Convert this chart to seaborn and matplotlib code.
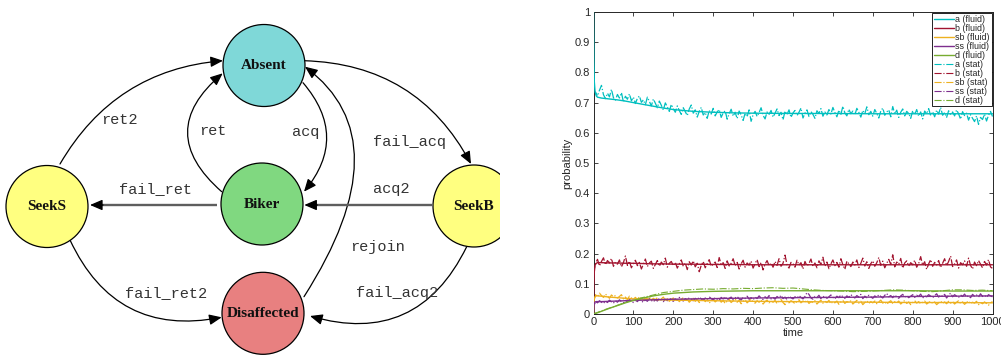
import numpy as np
import pandas as pd
import matplotlib
matplotlib.use("Agg")
import matplotlib.pyplot as plt
import seaborn as sns
from matplotlib.patches import Circle, FancyArrowPatch
from matplotlib.lines import Line2D

# ---------------- data: line chart ----------------
fluid_time = [0, 1, 2, 4, 7, 10, 20, 40, 60, 80, 100, 125, 150, 175, 200, 250,
              300, 350, 400, 500, 600, 700, 800, 900, 1000]
a_fluid = [1.0, 0.84, 0.77, 0.735, 0.722, 0.718, 0.715, 0.712, 0.709, 0.705, 0.70,
           0.694, 0.688, 0.682, 0.677, 0.671, 0.668, 0.666, 0.665, 0.664, 0.664,
           0.663, 0.663, 0.663, 0.663]
b_fluid = [0, 0.10, 0.14, 0.162, 0.168, 0.17, 0.17, 0.169, 0.169, 0.168, 0.168,
           0.167, 0.166, 0.166, 0.165, 0.165, 0.164, 0.164, 0.163, 0.163, 0.163,
           0.163, 0.163, 0.163, 0.163]
sb_fluid = [0, 0.035, 0.05, 0.058, 0.06, 0.06, 0.059, 0.056, 0.054, 0.052, 0.05,
            0.049, 0.048, 0.047, 0.046, 0.045, 0.044, 0.043, 0.042, 0.041, 0.04,
            0.039, 0.038, 0.038, 0.037]
ss_fluid = [0, 0.025, 0.035, 0.04, 0.041, 0.041, 0.041, 0.042, 0.043, 0.044, 0.045,
            0.046, 0.047, 0.048, 0.049, 0.05, 0.051, 0.052, 0.053, 0.054, 0.055,
            0.056, 0.058, 0.059, 0.06]
d_fluid = [0, 0.0003, 0.0008, 0.002, 0.003, 0.004, 0.009, 0.019, 0.028, 0.037, 0.045,
           0.053, 0.06, 0.065, 0.069, 0.073, 0.075, 0.076, 0.077, 0.077, 0.077,
           0.077, 0.077, 0.076, 0.076]

# stochastic ("stat") samples: t = 0, 2, then every 5 time units up to 1000
stat_time = [0, 2] + list(range(5, 1001, 5))
a_stat = [1.0, 0.73,
    0.735, 0.722, 0.741, 0.757, 0.726, 0.713, 0.731, 0.719, 0.744, 0.716,
    0.708, 0.727, 0.715, 0.733, 0.702, 0.721, 0.711, 0.729, 0.706, 0.718,
    0.697, 0.714, 0.722, 0.701, 0.709, 0.693, 0.718, 0.704, 0.689, 0.712,
    0.698, 0.683, 0.705, 0.691, 0.676, 0.699, 0.686, 0.671, 0.694, 0.68,
    0.668, 0.689, 0.674, 0.661, 0.683, 0.67, 0.657, 0.679, 0.692, 0.665,
    0.676, 0.652, 0.671, 0.684, 0.659, 0.667, 0.648, 0.674, 0.662, 0.681,
    0.656, 0.669, 0.677, 0.651, 0.666, 0.673, 0.645, 0.663, 0.678, 0.655,
    0.668, 0.647, 0.672, 0.659, 0.641, 0.665, 0.653, 0.676, 0.638, 0.66,
    0.671, 0.654, 0.667, 0.683, 0.658, 0.646, 0.669, 0.661, 0.674, 0.652,
    0.665, 0.679, 0.657, 0.668, 0.643, 0.672, 0.66, 0.676, 0.651, 0.666,
    0.674, 0.657, 0.668, 0.682, 0.649, 0.665, 0.676, 0.654, 0.67, 0.661,
    0.648, 0.673, 0.664, 0.68, 0.655, 0.669, 0.659, 0.677, 0.662, 0.684,
    0.667, 0.653, 0.675, 0.661, 0.688, 0.666, 0.656, 0.678, 0.663, 0.672,
    0.659, 0.681, 0.668, 0.652, 0.674, 0.663, 0.686, 0.66, 0.671, 0.655,
    0.677, 0.664, 0.649, 0.672, 0.682, 0.658, 0.669, 0.676, 0.653, 0.687,
    0.662, 0.675, 0.651, 0.668, 0.679, 0.656, 0.671, 0.664, 0.648, 0.673,
    0.66, 0.677, 0.655, 0.669, 0.646, 0.672, 0.663, 0.68, 0.657, 0.67,
    0.653, 0.675, 0.662, 0.684, 0.658, 0.667, 0.651, 0.673, 0.661, 0.669,
    0.656, 0.676, 0.663, 0.645, 0.67, 0.657, 0.665, 0.642, 0.66, 0.648,
    0.637, 0.656, 0.628, 0.651, 0.644, 0.662, 0.639, 0.658, 0.671, 0.654]
b_stat = [0, 0.15,
    0.168, 0.181, 0.159, 0.174, 0.186, 0.163, 0.177, 0.169, 0.184, 0.158,
    0.172, 0.165, 0.179, 0.156, 0.17, 0.192, 0.161, 0.175, 0.153, 0.167,
    0.178, 0.16, 0.171, 0.149, 0.166, 0.182, 0.157, 0.169, 0.175, 0.151,
    0.164, 0.177, 0.158, 0.172, 0.163, 0.185, 0.155, 0.168, 0.174, 0.16,
    0.171, 0.152, 0.166, 0.179, 0.158, 0.169, 0.147, 0.173, 0.162, 0.176,
    0.156, 0.168, 0.14, 0.161, 0.174, 0.153, 0.167, 0.18, 0.158, 0.165,
    0.172, 0.154, 0.187, 0.163, 0.17, 0.151, 0.176, 0.159, 0.168, 0.183,
    0.16, 0.171, 0.149, 0.166, 0.178, 0.155, 0.169, 0.162, 0.175, 0.152,
    0.167, 0.18, 0.157, 0.171, 0.146, 0.165, 0.177, 0.16, 0.169, 0.155,
    0.174, 0.161, 0.183, 0.158, 0.168, 0.195, 0.163, 0.152, 0.171, 0.166,
    0.155, 0.178, 0.162, 0.17, 0.149, 0.174, 0.159, 0.167, 0.182, 0.157,
    0.169, 0.153, 0.176, 0.164, 0.188, 0.158, 0.172, 0.15, 0.166, 0.179,
    0.16, 0.171, 0.155, 0.183, 0.163, 0.148, 0.175, 0.166, 0.157, 0.172,
    0.162, 0.179, 0.154, 0.168, 0.185, 0.159, 0.173, 0.151, 0.167, 0.176,
    0.158, 0.17, 0.187, 0.161, 0.175, 0.153, 0.168, 0.181, 0.164, 0.196,
    0.156, 0.172, 0.165, 0.184, 0.152, 0.169, 0.176, 0.159, 0.17, 0.163,
    0.178, 0.155, 0.167, 0.19, 0.161, 0.173, 0.148, 0.166, 0.18, 0.158,
    0.171, 0.162, 0.177, 0.154, 0.168, 0.183, 0.16, 0.174, 0.192, 0.157,
    0.166, 0.179, 0.152, 0.17, 0.163, 0.176, 0.158, 0.185, 0.161, 0.149,
    0.172, 0.16, 0.177, 0.165, 0.153, 0.174, 0.162, 0.18, 0.156, 0.151]
sb_stat = [0, 0.05,
    0.064, 0.057, 0.069, 0.061, 0.055, 0.066, 0.059, 0.052, 0.063, 0.057,
    0.061, 0.053, 0.058, 0.064, 0.05, 0.056, 0.047, 0.059, 0.053, 0.049,
    0.055, 0.048, 0.057, 0.051, 0.045, 0.054, 0.049, 0.056, 0.046, 0.052,
    0.047, 0.054, 0.043, 0.05, 0.056, 0.045, 0.051, 0.042, 0.049, 0.053,
    0.044, 0.05, 0.041, 0.048, 0.054, 0.043, 0.049, 0.039, 0.046, 0.052,
    0.042, 0.048, 0.038, 0.045, 0.051, 0.041, 0.047, 0.036, 0.044, 0.049,
    0.04, 0.046, 0.052, 0.039, 0.045, 0.035, 0.043, 0.048, 0.038, 0.044,
    0.05, 0.039, 0.045, 0.034, 0.042, 0.047, 0.037, 0.043, 0.049, 0.04,
    0.036, 0.044, 0.039, 0.047, 0.033, 0.041, 0.046, 0.037, 0.043, 0.039,
    0.045, 0.035, 0.042, 0.048, 0.038, 0.031, 0.043, 0.037, 0.044, 0.04,
    0.034, 0.042, 0.047, 0.037, 0.043, 0.039, 0.046, 0.035, 0.041, 0.038,
    0.044, 0.033, 0.04, 0.046, 0.036, 0.042, 0.038, 0.045, 0.034, 0.041,
    0.037, 0.043, 0.032, 0.04, 0.045, 0.035, 0.041, 0.038, 0.044, 0.033,
    0.039, 0.045, 0.036, 0.042, 0.031, 0.038, 0.044, 0.035, 0.041, 0.037,
    0.043, 0.034, 0.04, 0.046, 0.036, 0.041, 0.032, 0.039, 0.044, 0.035,
    0.041, 0.037, 0.043, 0.033, 0.039, 0.045, 0.035, 0.04, 0.031, 0.038,
    0.044, 0.036, 0.041, 0.034, 0.039, 0.043, 0.033, 0.038, 0.042, 0.035,
    0.04, 0.031, 0.037, 0.043, 0.035, 0.04, 0.034, 0.042, 0.036, 0.041,
    0.033, 0.039, 0.044, 0.035, 0.04, 0.032, 0.038, 0.043, 0.034, 0.039,
    0.036, 0.042, 0.031, 0.038, 0.034, 0.04, 0.035, 0.029, 0.037, 0.041]
ss_stat = [0, 0.03,
    0.041, 0.037, 0.044, 0.039, 0.035, 0.043, 0.038, 0.046, 0.04, 0.036,
    0.044, 0.039, 0.047, 0.041, 0.037, 0.045, 0.04, 0.048, 0.043, 0.038,
    0.046, 0.041, 0.049, 0.043, 0.039, 0.047, 0.042, 0.051, 0.045, 0.04,
    0.048, 0.043, 0.052, 0.046, 0.041, 0.049, 0.044, 0.053, 0.047, 0.042,
    0.05, 0.045, 0.055, 0.048, 0.043, 0.051, 0.046, 0.054, 0.049, 0.044,
    0.052, 0.047, 0.056, 0.05, 0.045, 0.053, 0.048, 0.057, 0.051, 0.046,
    0.054, 0.049, 0.045, 0.055, 0.05, 0.058, 0.047, 0.052, 0.056, 0.048,
    0.053, 0.058, 0.05, 0.046, 0.055, 0.051, 0.059, 0.049, 0.054, 0.047,
    0.056, 0.051, 0.06, 0.053, 0.048, 0.057, 0.052, 0.061, 0.05, 0.055,
    0.049, 0.058, 0.053, 0.062, 0.051, 0.056, 0.048, 0.059, 0.054, 0.05,
    0.057, 0.052, 0.061, 0.055, 0.05, 0.058, 0.071, 0.065, 0.053, 0.049,
    0.058, 0.054, 0.062, 0.051, 0.056, 0.06, 0.052, 0.057, 0.063, 0.055,
    0.05, 0.059, 0.054, 0.063, 0.057, 0.052, 0.06, 0.055, 0.064, 0.058,
    0.053, 0.061, 0.056, 0.065, 0.051, 0.059, 0.054, 0.062, 0.057, 0.052,
    0.06, 0.055, 0.064, 0.058, 0.053, 0.062, 0.068, 0.057, 0.061, 0.054,
    0.063, 0.057, 0.052, 0.06, 0.065, 0.056, 0.061, 0.054, 0.059, 0.064,
    0.055, 0.062, 0.058, 0.066, 0.053, 0.06, 0.057, 0.064, 0.059, 0.054,
    0.061, 0.067, 0.056, 0.063, 0.058, 0.065, 0.053, 0.062, 0.069, 0.057,
    0.064, 0.059, 0.055, 0.063, 0.058, 0.066, 0.056, 0.061, 0.054, 0.065,
    0.059, 0.063, 0.056, 0.067, 0.058, 0.062, 0.055, 0.064, 0.06, 0.057]
d_stat_time = [0, 25, 50, 75, 100, 125, 150, 175, 200, 225, 250, 275, 300, 325, 350,
               375, 400, 425, 450, 475, 500, 525, 550, 575, 600, 625, 650, 675, 700,
               725, 750, 775, 800, 825, 850, 875, 900, 925, 950, 975, 1000]
d_stat = [0, 0.013, 0.024, 0.036, 0.047, 0.055, 0.063, 0.071, 0.075, 0.079, 0.081,
          0.083, 0.082, 0.084, 0.083, 0.085, 0.084, 0.086, 0.087, 0.085, 0.086, 0.083,
          0.08, 0.078, 0.077, 0.076, 0.074, 0.075, 0.076, 0.078, 0.08, 0.079, 0.077,
          0.075, 0.074, 0.077, 0.08, 0.08, 0.078, 0.079, 0.077]

series_names = ["a", "b", "sb", "ss", "d"]
series_colors = ["#00bfbf", "#a2142f", "#edb120", "#7e2f8e", "#77ac30"]

x_ticks = [0, 100, 200, 300, 400, 500, 600, 700, 800, 900, 1000]
y_ticks = [0, 0.1, 0.2, 0.3, 0.4, 0.5, 0.6, 0.7, 0.8, 0.9, 1.0]
y_ticklabels = ["0", "0.1", "0.2", "0.3", "0.4", "0.5", "0.6", "0.7", "0.8", "0.9", "1"]

# ---------------- data: state diagram ----------------
node_names = ["Absent", "Biker", "SeekS", "SeekB", "Disaffected"]
node_x = [264, 262, 47, 474, 263]
node_y = [65.5, 204, 206.5, 206, 313.3]
node_colors = ["#7fd8d8", "#80d880", "#ffff80", "#ffff80", "#e88080"]
node_radius = 41

edge_labels = ["ret2", "ret", "acq", "fail_acq", "fail_ret2", "fail_acq2"]
edge_start = [(60, 164), (221.7, 191.7), (303, 82.7), (304, 60.7), (70, 240), (466.7, 246.7)]
edge_end = [(223, 60.7), (222.7, 73.3), (304, 191.7), (471, 164), (221.7, 317.3), (310, 316)]
edge_rad = [-0.26, -0.58, -0.42, -0.29, 0.39, -0.42]
edge_label_pos = [(119, 124), (213, 135), (306, 136), (410, 146), (166, 297.5), (397.5, 297.5)]

straight_labels = ["fail_ret", "acq2"]
straight_start = [(216.7, 205), (431.7, 205)]
straight_end = [(90, 205), (304.3, 205)]
straight_label_pos = [(155, 193.3), (391, 193.3)]

rejoin_label = "rejoin"
rejoin_start = (304, 296.7)
rejoin_end = (305, 66.7)
rejoin_label_pos = (378, 250.5)

# ---------------- style ----------------
sns.set_theme(style="ticks")
plt.rcParams["font.family"] = ["Liberation Sans", "DejaVu Sans"]
plt.rcParams.update({
    "xtick.direction": "in", "ytick.direction": "in",
    "xtick.top": True, "ytick.right": True,
})

fig = plt.figure(figsize=(10.01, 3.59), dpi=100)
fig.patch.set_facecolor("white")

# ---------------- state diagram ----------------
ax0 = fig.add_axes([0, 0, 500 / 1001, 1])
ax0.set_xlim(0, 500)
ax0.set_ylim(359, 0)
ax0.axis("off")

arrow_style = "-|>,head_length=0.75,head_width=0.32"
for s, e, r in zip(edge_start, edge_end, edge_rad):
    ax0.add_patch(FancyArrowPatch(s, e, arrowstyle=arrow_style, mutation_scale=10,
                                  connectionstyle=f"arc3,rad={r}", lw=0.9,
                                  color="black", shrinkA=0, shrinkB=0, zorder=2))
for lab, (lx, ly) in zip(edge_labels, edge_label_pos):
    ax0.text(lx, ly, lab, ha="center", va="baseline", fontsize=11,
             family="Liberation Mono", color="#333333")

# rejoin (asymmetric curve)
ax0.add_patch(FancyArrowPatch(rejoin_start, rejoin_end, arrowstyle=arrow_style,
                              mutation_scale=10,
                              connectionstyle="angle3,angleA=57.4,angleB=-36.9",
                              lw=0.9, color="black", shrinkA=0, shrinkB=0, zorder=2))
ax0.text(rejoin_label_pos[0], rejoin_label_pos[1], rejoin_label, ha="center",
         va="baseline", fontsize=11, family="Liberation Mono", color="#333333")

for s, e, lab, (lx, ly) in zip(straight_start, straight_end, straight_labels,
                               straight_label_pos):
    base = (e[0] + 11 * np.sign(s[0] - e[0]), e[1])
    ax0.plot([s[0], base[0]], [s[1], base[1]], color="#5e5e5e", lw=1.7,
             solid_capstyle="butt", zorder=2)
    ax0.add_patch(FancyArrowPatch((base[0] + 2 * np.sign(s[0] - e[0]), base[1]), e,
                                  arrowstyle=arrow_style, mutation_scale=10, lw=0.9,
                                  color="black", shrinkA=0, shrinkB=0, zorder=2))
    ax0.text(lx, ly, lab, ha="center", va="baseline", fontsize=11,
             family="Liberation Mono", color="#333333")

for name, x, y, c in zip(node_names, node_x, node_y, node_colors):
    ax0.add_patch(Circle((x, y), node_radius, facecolor=c, edgecolor="black",
                         lw=0.9, zorder=3))
    ax0.text(x, y, name, ha="center", va="center", fontsize=11, weight="bold",
             family="Liberation Serif", color="#111111", zorder=4)

# ---------------- line chart ----------------
ax = fig.add_axes([593.5 / 1001, 45 / 359, 399 / 1001, 302 / 359])

stat_values = [a_stat, b_stat, sb_stat, ss_stat]
for name, vals, c in zip(series_names[:4], stat_values, series_colors[:4]):
    sns.lineplot(x=stat_time, y=vals, ax=ax, color=c, linestyle="-.", lw=0.9,
                 estimator=None, sort=False, zorder=2)
sns.lineplot(x=d_stat_time, y=d_stat, ax=ax, color=series_colors[4], linestyle="-.",
             lw=0.8, estimator=None, sort=False, zorder=2)

fluid_values = [a_fluid, b_fluid, sb_fluid, ss_fluid, d_fluid]
for name, vals, c in zip(series_names, fluid_values, series_colors):
    sns.lineplot(x=fluid_time, y=vals, ax=ax, color=c, linestyle="-", lw=1.0,
                 estimator=None, sort=False, zorder=3)

ax.set_xlim(0, 1000)
ax.set_ylim(0, 1)
ax.set_xticks(x_ticks)
ax.set_xticklabels([str(t) for t in x_ticks])
ax.set_yticks(y_ticks)
ax.set_yticklabels(y_ticklabels)
ax.tick_params(axis="both", which="both", direction="in", length=3, width=0.6,
               labelsize=8, pad=2.5, colors="#262626", top=True, right=True)
for sp in ax.spines.values():
    sp.set_linewidth(0.7)
    sp.set_color("#262626")
ax.set_xlabel("time", fontsize=8, labelpad=0.5, color="#262626")
ax.set_ylabel("probability", fontsize=8, labelpad=2, color="#262626")

handles = []
labels = []
for name, c in zip(series_names, series_colors):
    handles.append(Line2D([], [], color=c, lw=1.0, linestyle="-"))
    labels.append(f"{name} (fluid)")
for name, c in zip(series_names, series_colors):
    handles.append(Line2D([], [], color=c, lw=0.8, linestyle="-."))
    labels.append(f"{name} (stat)")
leg = ax.legend(handles, labels, loc="upper right", fontsize=6.4, labelspacing=0.0,
                handlelength=2.2, handletextpad=0.2, borderpad=0.2,
                borderaxespad=0.1, fancybox=False, framealpha=1, edgecolor="black")
leg.get_frame().set_linewidth(0.6)

fig.savefig("out.png", dpi=100, facecolor="white")
